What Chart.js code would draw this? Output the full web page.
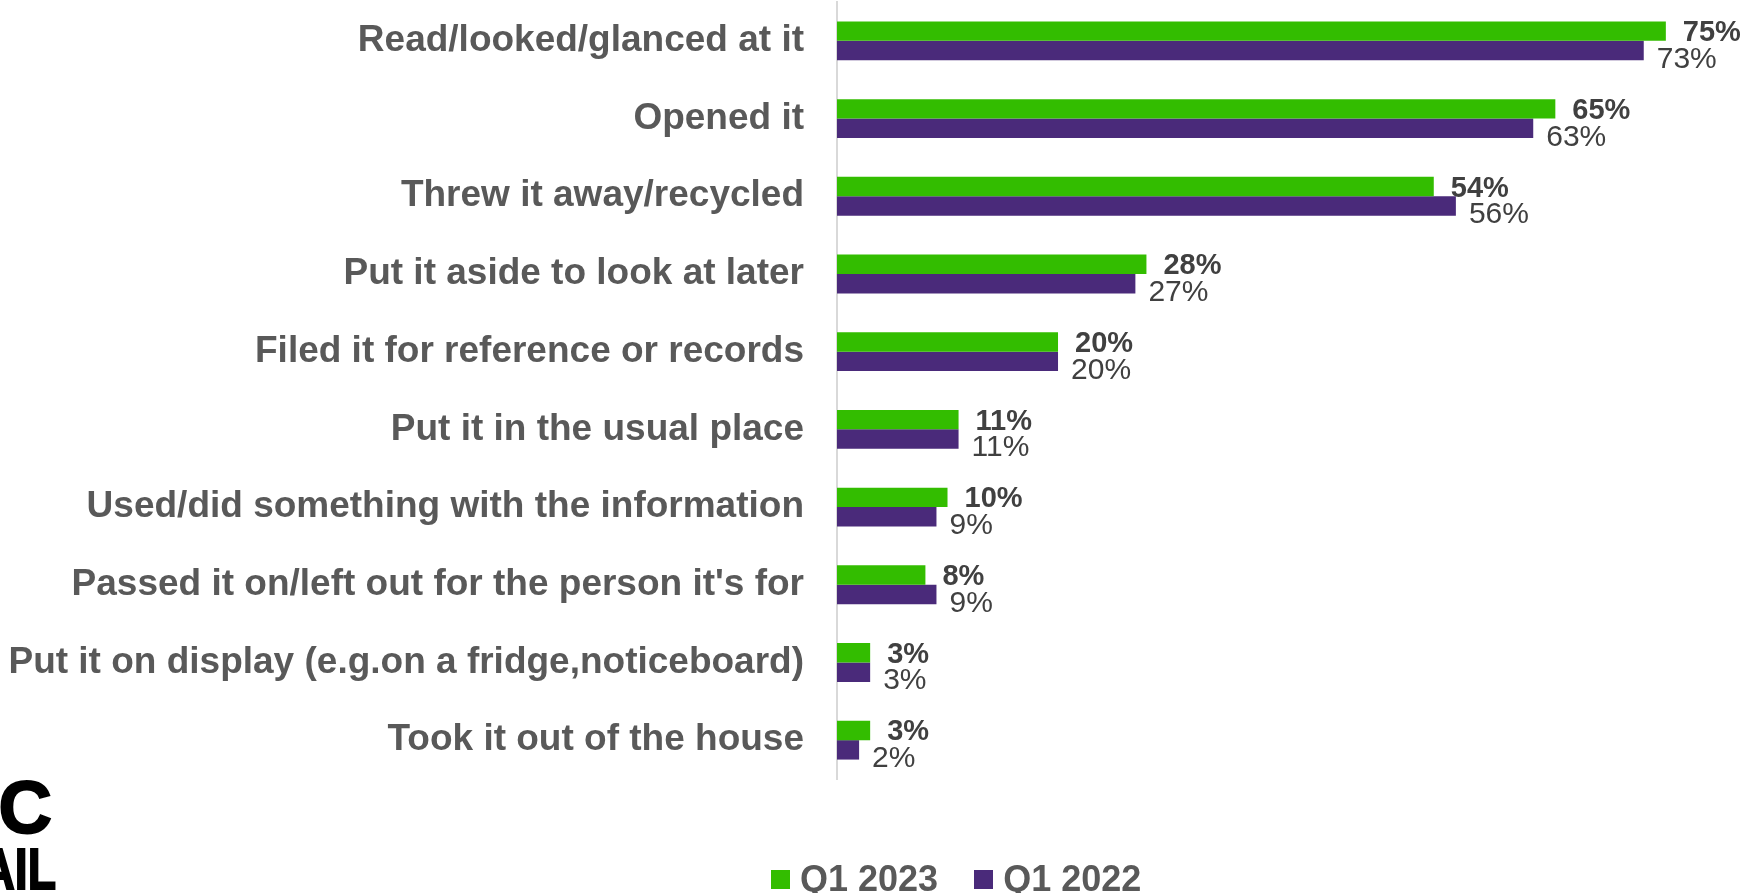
<!DOCTYPE html>
<html>
<head>
<meta charset="utf-8">
<script src="https://cdn.jsdelivr.net/npm/chart.js@4.4.1/dist/chart.umd.min.js"></script>
<style>
    html, body { margin: 0; padding: 0; background: #fff; }
    #wrap { position: relative; width: 1741px; height: 893px; overflow: hidden; }
    #legend {
        position: absolute; left: 771px; top: 858px;
        display: flex; align-items: center;
        font: bold 36px "Liberation Sans", Arial, sans-serif; color: #595959;
    }
    #legend .item { display: flex; align-items: center; margin-right: 36px; }
    #legend .box { width: 19px; height: 19px; margin-right: 10px; }
    .logo { position: absolute; color: #000; font-family: "Liberation Sans", Arial, sans-serif; font-weight: bold;
            text-align: right; white-space: nowrap; transform-origin: right top; -webkit-text-stroke: 2px #000; }
</style>
</head>
<body>
<div id="wrap">
    <canvas id="chart" width="1741" height="893"></canvas>
    <div id="legend"></div>
    <div class="logo" style="left:-300px; top:771px; width:352px; font-size:74px; line-height:74px;">JIC</div>
    <div class="logo" style="left:-300px; top:840px; width:356px; font-size:58px; line-height:58px; transform: scaleX(0.8);">MAIL</div>
</div>
<script>
// ─── Mail engagement actions, Q1 2023 vs Q1 2022 ───

const categories = [
    'Read/looked/glanced at it',
    'Opened it',
    'Threw it away/recycled',
    'Put it aside to look at later',
    'Filed it for reference or records',
    'Put it in the usual place',
    'Used/did something with the information',
    "Passed it on/left out for the person it's for",
    'Put it on display (e.g.on a fridge,noticeboard)',
    'Took it out of the house'
];
const q1_2023 = [75, 65, 54, 28, 20, 11, 10, 8, 3, 3];
const q1_2022 = [73, 63, 56, 27, 20, 11, 9, 9, 3, 2];
const seriesLabels = ['Q1 2023', 'Q1 2022'];

const GREEN = '#33bd00';
const PURPLE = '#4a2a7a';
const FONT = '"Liberation Sans", Arial, sans-serif';

// value labels next to each bar (2023 bold, 2022 regular and a bit lower)
const valueLabels = {
    id: 'valueLabels',
    afterDatasetsDraw(chart) {
        const ctx = chart.ctx;
        ctx.save();
        ctx.fillStyle = '#404040';
        ctx.textAlign = 'left';
        ctx.textBaseline = 'middle';
        chart.data.datasets.forEach((ds, i) => {
            const meta = chart.getDatasetMeta(i);
            ctx.font = i === 0 ? 'bold 29px ' + FONT : '30px ' + FONT;
            meta.data.forEach((bar, j) => {
                const dx = i === 0 ? 17 : 13;
                const dy = i === 0 ? 2 : 9;
                ctx.fillText(ds.data[j] + '%', bar.x + dx, bar.y + dy);
            });
        });
        ctx.restore();
    }
};

const chart = new Chart(document.getElementById('chart'), {
    type: 'bar',
    data: {
        labels: categories,
        datasets: [
            { label: seriesLabels[0], data: q1_2023, backgroundColor: GREEN },
            { label: seriesLabels[1], data: q1_2022, backgroundColor: PURPLE }
        ]
    },
    options: {
        indexAxis: 'y',
        responsive: false,
        animation: false,
        devicePixelRatio: 1,
        layout: { padding: { top: 2, bottom: 114, left: 0, right: 0 } },
        datasets: { bar: { categoryPercentage: 0.5, barPercentage: 1 } },
        plugins: {
            legend: { display: false },
            tooltip: { enabled: false }
        },
        scales: {
            x: { display: false, min: 0, max: 81.8 },
            y: {
                afterFit(scale) {
                    scale.width = 837;
                    scale.paddingTop = 0;
                    scale.paddingBottom = 0;
                },
                grid: { color: 'rgba(0,0,0,0)', drawTicks: false },
                border: { display: true, color: '#d9d9d9', width: 2 },
                ticks: {
                    color: '#595959',
                    padding: 33,
                    autoSkip: false,
                    font: { family: FONT, size: 37, weight: 'bold' }
                }
            }
        }
    },
    plugins: [valueLabels]
});

// HTML legend built from the datasets
const legendEl = document.getElementById('legend');
chart.data.datasets.forEach(ds => {
    const item = document.createElement('div');
    item.className = 'item';
    const box = document.createElement('span');
    box.className = 'box';
    box.style.background = ds.backgroundColor;
    const txt = document.createElement('span');
    txt.textContent = ds.label;
    item.appendChild(box);
    item.appendChild(txt);
    legendEl.appendChild(item);
});
</script>
</body>
</html>
